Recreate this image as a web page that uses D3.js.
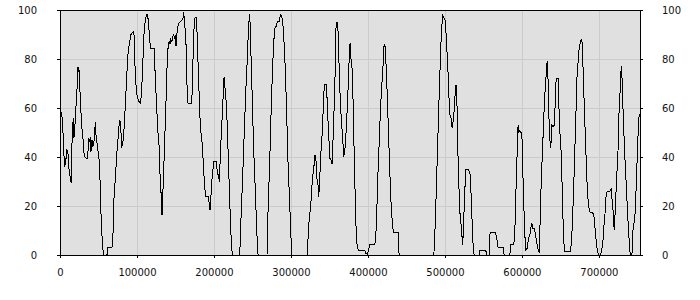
<!DOCTYPE html>
<html>
<head>
<meta charset="utf-8">
<script src="https://cdn.jsdelivr.net/npm/d3@7"></script>
<style>
  html, body { margin: 0; padding: 0; background: #ffffff; }
  svg { display: block; }
  .tick text { font-family: "DejaVu Sans", sans-serif; font-size: 10px; fill: #111; }
</style>
</head>
<body>
<svg id="chart" width="700" height="300"></svg>
<script>
const xValues = [0,2500,4700,5600,6900,7300,8600,10300,11600,13400,14700,15100,16000,17300,18100,19400,20300,22000,23300,24200,24700,25500,27200,28100,29400,30300,31600,34200,35900,37200,38500,39400,40200,41500,42800,44100,45900,46800,48900,50600,52400,53700,55400,56300,61000,62300,67500,68800,70100,71900,74000,75300,76600,77900,78800,80100,81400,82700,84400,85700,87000,88800,90500,91800,93100,95300,96100,96600,97900,99200,100900,102600,104400,105700,107000,108300,109600,111300,113000,113900,114800,116100,117400,122100,123900,125600,127300,128600,129500,130800,132100,132500,133400,134700,135600,136900,138200,139500,140800,142100,142900,143800,145100,146400,147700,149000,149900,150700,151600,152500,154200,156800,158500,159800,160700,161600,163300,164200,165000,165500,166300,170200,171500,172800,174100,175400,176700,177600,178500,179800,181100,182400,184100,185400,186700,188000,189300,192800,194100,194900,195800,196700,198000,199700,203200,204500,205800,207100,208400,209700,211400,213100,214400,216200,217500,218800,220100,221400,222700,224000,233500,234800,236500,238300,240000,241700,243500,244800,246100,246900,247800,249100,250400,251700,253400,254700,256000,257300,268900,270200,272400,274100,275900,277600,279300,281100,282400,285000,286300,288000,289300,291000,292800,294500,296200,298400,300100,301400,320900,323500,325700,327900,329600,331300,332600,333900,335200,336100,337400,338700,340000,341300,342600,343500,346100,346900,348200,349500,350400,352100,353400,354700,356500,357800,358600,359900,361200,362500,363800,365100,366900,368600,369900,371200,372900,374200,375500,376800,377700,379000,380300,381600,382900,384200,385900,387700,395900,397200,398900,400200,402400,407600,409800,411100,412800,414500,416300,418000,419700,421000,422300,423200,424900,426700,428400,430100,431900,433200,439200,440500,485600,486900,488200,489900,491700,493400,495100,496900,498600,500300,501600,502900,504200,505500,506800,508100,509400,511200,512500,513800,514600,515500,516300,518100,519400,521000,522400,523200,524100,525800,527100,531000,532700,534000,535300,536600,537900,544400,544900,553100,554400,557400,558300,559200,565700,567400,569100,575600,576900,584300,585600,589500,590800,592100,593400,594300,595100,596000,597300,599000,599900,600800,602100,603400,604700,606800,608600,610300,611600,612900,614200,616000,617700,619800,621100,622400,623300,625000,626800,628100,629400,630700,632000,632800,633700,635000,636300,637200,638000,638900,640600,641900,643200,644500,647100,648000,649700,651600,652300,653200,654500,655400,662700,664000,665300,666600,667900,669200,670500,671800,673100,674400,675700,677000,677900,678800,680100,681400,682700,684000,685300,686600,687900,690500,692600,693900,695700,697000,698300,699600,701700,703500,705600,706900,708200,709500,710800,714300,716000,717300,718600,719900,721200,723000,724700,726000,727300,728600,729500,730300,731600,733400,735100,736800,738100,739400,740700,742900,744600,746500,748200,749900,751700,752500,753400];

const yValues = [60,57,46,36,39.5,36.7,42.9,42,35.4,31.3,29.3,40,50,55.8,47.6,53,58.5,66.7,76.9,74.8,75.5,70,58.5,52.4,50.3,44.9,40.1,39.5,39.2,47.6,46.3,48,42.2,46.9,44.2,46.3,54.1,49,43.5,39.5,27.9,11.6,4,0,0,3.1,3.1,8.2,23,31.3,42.2,47,52.4,55,53,44.2,44.9,49,58.5,66.7,74.8,84.4,86.4,89.8,90.5,91.2,90.5,81.6,74.8,66.7,64,62.6,61.9,65.3,73.5,84.4,93.2,96.6,98.2,97.5,95.5,89.8,84.4,84.4,72.1,59.9,49.7,44.9,35.4,27.9,20.4,16.3,24,33,44.9,54.4,68,81.6,86,87.3,86,88.4,86.8,89.1,89.8,88.4,89.8,85.4,89.1,92.5,94.6,95.5,95.9,96.9,99,95.5,89.1,81.6,69.4,64,61.9,61.9,65.3,80.3,92.5,96.9,96.9,93.9,87,73.5,62.6,51.7,47.6,42.2,34,27.9,23.8,23.8,20.4,18.4,21.8,28.6,32.7,38.1,38.1,32.7,32.7,29.9,42.2,50.3,61.2,72.8,68,61.2,50.3,38.1,25.9,13.6,4.1,0,0,12.2,25.9,40.8,55.8,69.4,81.6,92.5,98.2,95,84.4,70.7,55.8,42.2,28.6,17.7,6.8,0,0,17.7,38.1,57.1,74.8,87,92.8,93.5,95.2,95.2,98.2,97.5,95.2,87,74.8,57.1,38.1,20.4,6.8,0,0,13.6,20.4,31.3,35.4,40.8,38.1,30.6,28.6,23.8,31.3,40.8,46.3,54.4,65.3,69.4,69.4,63.9,54.4,46.3,39.5,38.8,37,47.6,64,78.9,93.9,95.2,91.2,77.6,65.3,57.1,49,40.1,42.2,47.6,58.5,68,78.9,86.4,80.3,78.9,68,49,31.3,13.6,4.1,1.8,1.8,0.7,0.3,1.4,4.1,4.1,5.4,13.6,31.3,44.9,59.9,69.4,77.6,86,85,80.3,66.7,50.3,34,20.4,12.2,9.1,9.1,0,0,8.2,20.4,38.1,57.1,73.5,88.4,98,96.9,95.9,89.8,81.6,73.5,62.6,56.4,55.8,51.7,55.8,61.2,68.7,69.4,65.3,47.6,28.6,17.7,12.2,6.8,4.1,12,25.9,34.7,34.7,33,24.5,13.6,4,0,0,1.8,1.8,0,0,8.2,9.1,9.1,6.8,3.1,3.1,0,0,4.1,4.1,9.5,24.5,36.7,49,53,50.3,50.7,50,50,39.5,23.1,12.2,2,2.7,6.8,8.2,10.9,12.9,10.9,10.9,8.2,4.1,2,1.4,9.5,28.6,43.5,53,64,69.4,76.2,79.2,74.8,57.1,47.6,43.5,46.3,53,52.4,53,61.2,72.1,72.1,61.2,47.6,39.5,25.9,16.3,5.4,1.4,1.4,4.1,10.9,21.8,34,47.6,61.2,74.8,78.9,84.4,86.4,87.8,88.2,82.3,69.4,57.1,46.3,34,24.5,20.4,17.7,17.3,17,15,8.2,4.1,1.4,0,0,1.4,6.8,13.6,17.7,25.2,25.9,25.9,27.2,21.8,17.7,10.2,17.7,31.3,40.8,57.1,65.3,74.8,77.1,70,57.1,42.2,31.3,20.4,12.2,5.4,0,0,12.2,13.6,25.9,40.8,55.8,57.1,57.5];

const xTickValues = [0, 100000, 200000, 300000, 400000, 500000, 600000, 700000];
const yTickValues = [0, 20, 40, 60, 80, 100];

const data = xValues.map((v, i) => ({ x: v, y: yValues[i] }));

const svg = d3.select("#chart");
const mLeft = 60, mRight = 640, mTop = 10, mBottom = 255;

const x = d3.scaleLinear().domain([0, d3.max(xValues)]).range([mLeft, mRight]);
const y = d3.scaleLinear().domain([0, 100]).range([mBottom, mTop]);

// plot background
svg.append("rect")
  .attr("x", mLeft).attr("y", mTop)
  .attr("width", mRight - mLeft).attr("height", mBottom - mTop)
  .attr("fill", "#e0e0e0");

// grid
const grid = svg.append("g").attr("shape-rendering", "crispEdges");
grid.selectAll("line.h").data(yTickValues.filter(d => d > 0 && d < 100)).enter()
  .append("line")
  .attr("x1", mLeft).attr("x2", mRight)
  .attr("y1", d => Math.round(y(d)) + 0.5).attr("y2", d => Math.round(y(d)) + 0.5)
  .attr("stroke", "#cbcbcb").attr("stroke-width", 1);
grid.selectAll("line.v").data(xTickValues.filter(d => d > 0)).enter()
  .append("line")
  .attr("y1", mTop).attr("y2", mBottom)
  .attr("x1", d => Math.round(x(d)) + 0.5).attr("x2", d => Math.round(x(d)) + 0.5)
  .attr("stroke", "#cbcbcb").attr("stroke-width", 1);

// line
const line = d3.line().x(d => x(d.x)).y(d => y(d.y));
svg.append("path")
  .datum(data)
  .attr("d", line)
  .attr("fill", "none")
  .attr("stroke", "#000")
  .attr("stroke-width", 1)
  .attr("shape-rendering", "crispEdges");

// frame
svg.append("rect")
  .attr("x", mLeft + 0.5).attr("y", mTop + 0.5)
  .attr("width", mRight - mLeft).attr("height", mBottom - mTop)
  .attr("fill", "none").attr("stroke", "#000").attr("stroke-width", 1)
  .attr("shape-rendering", "crispEdges");

// axes
const fmt = d3.format("d");
const gx = svg.append("g").attr("transform", `translate(0,${mBottom})`)
  .call(d3.axisBottom(x).tickValues(xTickValues).tickFormat(fmt).tickSize(3).tickPadding(11));
const gl = svg.append("g").attr("transform", `translate(${mLeft},0)`)
  .call(d3.axisLeft(y).tickValues(yTickValues).tickSize(3).tickPadding(20));
const gr = svg.append("g").attr("transform", `translate(${mRight},0)`)
  .call(d3.axisRight(y).tickValues(yTickValues).tickSize(3).tickPadding(19));

[gx, gl, gr].forEach(g => {
  g.select(".domain").remove();
  g.selectAll(".tick line").attr("stroke", "#000").attr("shape-rendering", "crispEdges");
});
</script>
</body>
</html>
